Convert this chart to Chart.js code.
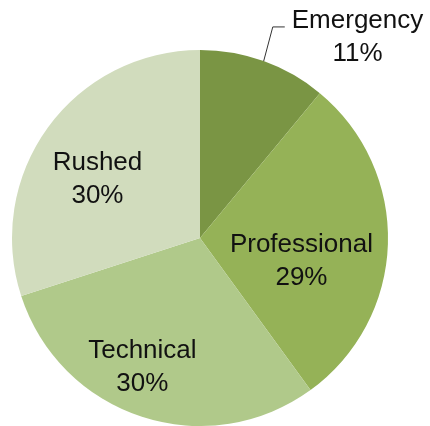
<!DOCTYPE html>
<html>
<head>
<meta charset="utf-8">
<script src="https://cdn.jsdelivr.net/npm/chart.js@4/dist/chart.umd.min.js"></script>
<style>
  html, body { margin: 0; padding: 0; background: #fff; }
  #wrap { width: 430px; height: 426px; }
</style>
</head>
<body>
<div id="wrap"><canvas id="c" width="430" height="426"></canvas></div>
<script>
// Share of calls by type (percent)
const categories = ['Emergency', 'Professional', 'Technical', 'Rushed'];
const shares = [11, 29, 30, 30];
const sliceColors = ['#7a9544', '#95b257', '#b0c98a', '#d1dcbd'];

// Where each label sits: fraction of the radius and angular nudge (degrees) from the slice middle
const labelPlacement = [
  { frac: 1.367, shift: 18, leader: true },
  { frac: 0.551, shift: 9.9 },
  { frac: 0.742, shift: 6.4 },
  { frac: 0.635, shift: -5.2 }
];

const sliceLabels = {
  id: 'sliceLabels',
  afterDatasetsDraw(chart) {
    const ctx = chart.ctx;
    const meta = chart.getDatasetMeta(0);
    ctx.save();
    ctx.font = '26px "Liberation Sans", Arial, sans-serif';
    ctx.fillStyle = '#111';
    ctx.textAlign = 'center';
    ctx.textBaseline = 'alphabetic';
    meta.data.forEach((arc, i) => {
      const p = arc.getProps(['x', 'y', 'startAngle', 'endAngle', 'outerRadius'], true);
      const mid = (p.startAngle + p.endAngle) / 2;
      const place = labelPlacement[i];
      const a = mid + place.shift * Math.PI / 180;
      const cx = p.x + Math.cos(a) * p.outerRadius * place.frac;
      const cy = p.y + Math.sin(a) * p.outerRadius * place.frac;
      const line1 = categories[i];
      const line2 = shares[i] + '%';
      ctx.fillText(line1, cx, cy - 7);
      ctx.fillText(line2, cx, cy + 26);
      if (place.leader) {
        const w = ctx.measureText(line1).width;
        const left = cx - w / 2;
        const ly = cy - 8;
        const sx = p.x + Math.cos(mid) * p.outerRadius;
        const sy = p.y + Math.sin(mid) * p.outerRadius;
        ctx.strokeStyle = '#333';
        ctx.lineWidth = 1;
        ctx.beginPath();
        ctx.moveTo(sx, sy);
        ctx.lineTo(left - 19, ly);
        ctx.lineTo(left - 7, ly);
        ctx.stroke();
      }
    });
    ctx.restore();
  }
};

new Chart(document.getElementById('c'), {
  type: 'pie',
  data: {
    labels: categories,
    datasets: [{
      data: shares,
      backgroundColor: sliceColors,
      borderWidth: 0
    }]
  },
  options: {
    responsive: false,
    animation: false,
    layout: { padding: { left: 12, right: 42, top: 50, bottom: 0 } },
    plugins: {
      legend: { display: false },
      tooltip: { enabled: false }
    }
  },
  plugins: [sliceLabels]
});
</script>
</body>
</html>
